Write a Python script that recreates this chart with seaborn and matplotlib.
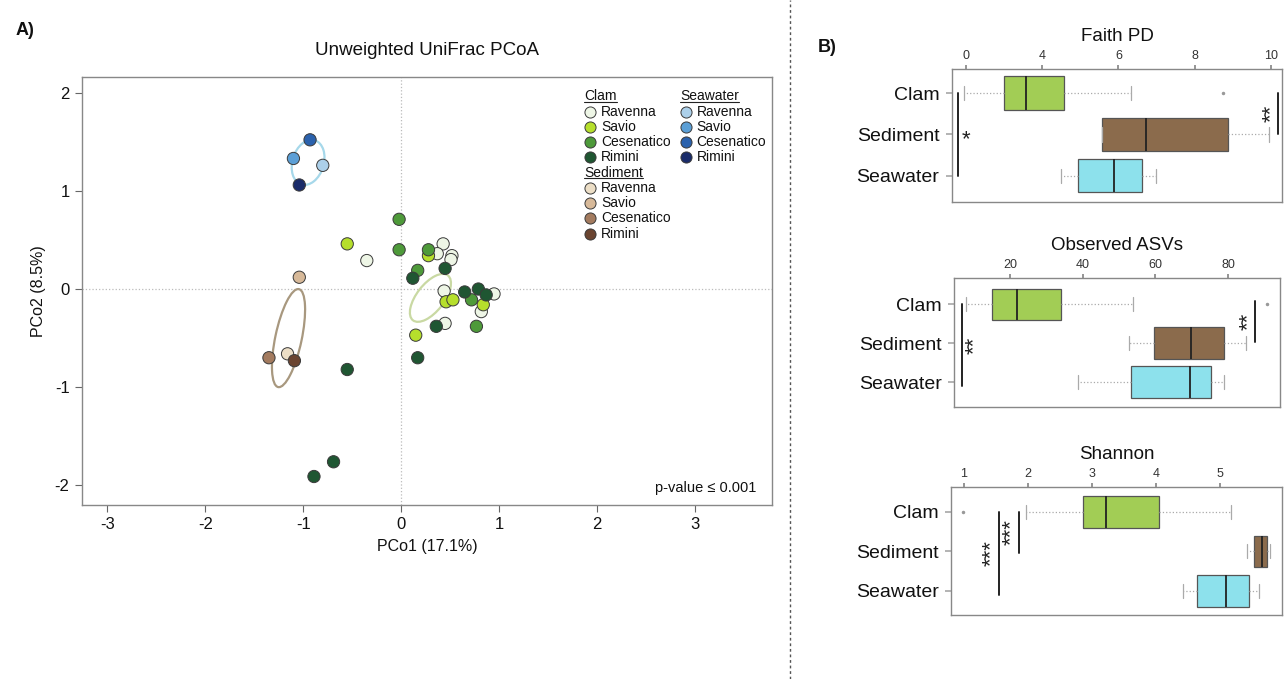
import numpy as np
import pandas as pd
import seaborn as sns
import matplotlib.pyplot as plt
from matplotlib.patches import Ellipse
from matplotlib.lines import Line2D

# ---------------- datos PCoA ----------------
sites = ["Ravenna", "Savio", "Cesenatico", "Rimini"]
sample_types = ["Clam", "Sediment", "Seawater"]

clam_x = {
    "Ravenna": [0.43, 0.37, 0.52, 0.51, 0.44, 0.95, 0.82, 0.45, -0.35],
    "Savio": [0.28, 0.46, 0.53, 0.84, 0.15, -0.55],
    "Cesenatico": [-0.02, -0.02, 0.28, 0.17, 0.72, 0.77],
    "Rimini": [0.45, 0.12, 0.65, 0.79, 0.87, 0.36, 0.17, -0.55, -0.69, -0.89],
}
clam_y = {
    "Ravenna": [0.46, 0.36, 0.34, 0.30, -0.02, -0.05, -0.23, -0.35, 0.29],
    "Savio": [0.34, -0.13, -0.11, -0.16, -0.47, 0.46],
    "Cesenatico": [0.71, 0.40, 0.40, 0.19, -0.11, -0.38],
    "Rimini": [0.21, 0.11, -0.03, 0.00, -0.06, -0.38, -0.70, -0.82, -1.76, -1.91],
}
sediment_x = {"Ravenna": [-1.16], "Savio": [-1.04], "Cesenatico": [-1.35], "Rimini": [-1.09]}
sediment_y = {"Ravenna": [-0.66], "Savio": [0.12], "Cesenatico": [-0.70], "Rimini": [-0.73]}
seawater_x = {"Ravenna": [-0.80], "Savio": [-1.10], "Cesenatico": [-0.93], "Rimini": [-1.04]}
seawater_y = {"Ravenna": [1.26], "Savio": [1.33], "Cesenatico": [1.52], "Rimini": [1.06]}

# elipses: centro x, centro y, ancho, alto, angulo
ellipse_cx = [0.30, -1.15, -0.95]
ellipse_cy = [-0.09, -0.50, 1.29]
ellipse_w = [0.58, 1.02, 0.47]
ellipse_h = [0.28, 0.27, 0.32]
ellipse_ang = [52, 78, 73]
ellipse_col = ["#c9d9a3", "#a8987f", "#a6d8ea"]

colors = {
    "Clam": ["#eef6e6", "#b6df2c", "#4e9a3a", "#1f5632"],
    "Sediment": ["#ecdec6", "#d7b999", "#a37b5f", "#6a4430"],
    "Seawater": ["#acd0ea", "#5b9fd6", "#2b62ad", "#1a2c6a"],
}

# ---------------- datos diversidad alfa (cajas) ----------------
groups = ["Clam", "Sediment", "Seawater"]
box_colors = ["#a2cd55", "#8b6b4c", "#8de1ec"]

faith_q1 = [2.99, 5.58, 4.95]
faith_med = [3.57, 6.72, 5.89]
faith_q3 = [4.58, 8.87, 6.62]
faith_lo = [1.95, 5.58, 4.48]
faith_hi = [6.34, 9.94, 6.98]
faith_out = [[8.74], [], []]
faith_ticks = [2, 4, 6, 8, 10]
faith_ticklabels = ["0", "4", "6", "8", "10"]

asv_q1 = [15.0, 59.6, 53.3]
asv_med = [21.9, 69.7, 69.6]
asv_q3 = [34.0, 78.9, 75.3]
asv_lo = [7.9, 52.7, 38.7]
asv_hi = [53.9, 84.9, 78.9]
asv_out = [[90.7], [], []]
asv_ticks = [20, 40, 60, 80]
asv_ticklabels = ["20", "40", "60", "80"]

shan_q1 = [2.86, 5.54, 4.65]
shan_med = [3.22, 5.66, 5.09]
shan_q3 = [4.05, 5.74, 5.45]
shan_lo = [1.97, 5.43, 4.42]
shan_hi = [5.17, 5.78, 5.61]
shan_out = [[0.98], [], []]
shan_ticks = [1, 2, 3, 4, 5]
shan_ticklabels = ["1", "2", "3", "4", "5"]

# ---------------- estilo ----------------
sns.set_theme(style="white")
plt.rcParams['font.family'] = ['Liberation Sans', 'DejaVu Sans']
plt.rcParams['axes.unicode_minus'] = False
plt.rcParams['text.color'] = '#111111'
plt.rcParams['axes.labelcolor'] = '#111111'
plt.rcParams['xtick.labelcolor'] = '#111111'
plt.rcParams['ytick.labelcolor'] = '#111111'

fig = plt.figure(figsize=(12.84, 6.79), dpi=100)
renderer = fig.canvas.get_renderer()

# ================= A) PCoA =================
rows = []
for st, xs, ys in [("Clam", clam_x, clam_y), ("Sediment", sediment_x, sediment_y),
                   ("Seawater", seawater_x, seawater_y)]:
    for site in sites:
        for x, y in zip(xs[site], ys[site]):
            rows.append({"PCo1": x, "PCo2": y, "grupo": f"{st} {site}"})
df = pd.DataFrame(rows)
palette = {f"{st} {site}": colors[st][i] for st in sample_types for i, site in enumerate(sites)}

ax = fig.add_axes([0.0639, 0.2563, 0.5373, 0.6303])
ax.axhline(0, color="#bbbbbb", lw=0.9, ls=":", zorder=0)
ax.axvline(0, color="#bbbbbb", lw=0.9, ls=":", zorder=0)
for cx, cy, w, h, a, c in zip(ellipse_cx, ellipse_cy, ellipse_w, ellipse_h, ellipse_ang, ellipse_col):
    ax.add_patch(Ellipse((cx, cy), w, h, angle=a, fill=False, edgecolor=c, lw=1.6, zorder=1))
sns.scatterplot(data=df, x="PCo1", y="PCo2", hue="grupo", palette=palette, s=78,
                edgecolor="#3a3a3a", linewidth=0.7, legend=False, ax=ax, zorder=3)
ax.set_xlim(-3.26, 3.79)
ax.set_ylim(-2.2, 2.16)
ax.set_xticks([-3, -2, -1, 0, 1, 2, 3])
ax.set_yticks([-2, -1, 0, 1, 2])
ax.tick_params(axis="both", labelsize=12, length=5, width=0.8, color="#666666",
               left=True, bottom=True, pad=4)
for sp in ax.spines.values():
    sp.set_color("#888888")
    sp.set_linewidth(1.0)
ax.set_xlabel("PCo1 (17.1%)", fontsize=11.5, labelpad=5)
ax.set_ylabel("PCo2 (8.5%)", fontsize=11.5, labelpad=6)
ax.set_title("Unweighted UniFrac PCoA", fontsize=13.5, pad=16)
ax.text(0.978, 0.04, "p-value ≤ 0.001", transform=ax.transAxes, ha="right",
        va="center", fontsize=10.5)

# leyenda manual
row_h = 0.0357
def legend_block(x0, y0, title, cols):
    t = ax.text(x0, y0, title, transform=ax.transAxes, fontsize=10, va="center", ha="left")
    bb = t.get_window_extent(renderer).transformed(ax.transAxes.inverted())
    ax.add_artist(Line2D([bb.x0, bb.x1], [bb.y0 + 0.004, bb.y0 + 0.004], color="#222222",
                         lw=0.8, transform=ax.transAxes))
    for i, site in enumerate(sites):
        yy = y0 - (i + 1) * row_h
        ax.add_artist(Line2D([x0 + 0.009], [yy], marker="o", markersize=8,
                             markerfacecolor=cols[i], markeredgecolor="#3a3a3a",
                             markeredgewidth=0.7, ls="none", transform=ax.transAxes))
        ax.text(x0 + 0.024, yy, site, transform=ax.transAxes, fontsize=10,
                va="center", ha="left")

legend_block(0.728, 0.955, "Clam", colors["Clam"])
legend_block(0.728, 0.955 - 5 * row_h, "Sediment", colors["Sediment"])
legend_block(0.867, 0.955, "Seawater", colors["Seawater"])

# ================= B) cajas =================
def box_panel(rect, title, q1, med, q3, lo, hi, outl, ticks, ticklabels, xlim, ylim, sig):
    bx = fig.add_axes(rect)
    stats = [dict(q1=a, med=b, q3=c, whislo=d, whishi=e, fliers=f, label=g)
             for a, b, c, d, e, f, g in zip(q1, med, q3, lo, hi, outl, groups)]
    res = bx.bxp(stats, positions=range(len(groups)), widths=0.8, orientation="horizontal",
                 patch_artist=True, showfliers=True, capwidths=0.35,
                 boxprops=dict(edgecolor="#555555", lw=0.9),
                 medianprops=dict(color="#222222", lw=1.3),
                 whiskerprops=dict(color="#aaaaaa", lw=0.9, ls=":"),
                 capprops=dict(color="#aaaaaa", lw=0.9),
                 flierprops=dict(marker="o", markersize=1.5, markerfacecolor="#999999",
                                 markeredgecolor="#999999"))
    for patch, c in zip(res["boxes"], box_colors):
        patch.set_facecolor(c)
    bx.set_xlim(*xlim)
    bx.set_ylim(*ylim)
    bx.xaxis.tick_top()
    bx.set_xticks(ticks)
    bx.set_xticklabels(ticklabels)
    bx.set_yticks(range(len(groups)))
    bx.set_yticklabels(groups)
    bx.tick_params(axis="x", labelsize=9, length=3, color="#888888", top=True, pad=2,
                   labelcolor="#333333")
    bx.tick_params(axis="y", labelsize=14, length=4, color="#aaaaaa", left=True, pad=5)
    for sp in bx.spines.values():
        sp.set_color("#888888")
        sp.set_linewidth(1.0)
    bx.set_title(title, fontsize=13.5, pad=20)
    for (xl, y0, y1, xt, yt, lab, rot) in sig:
        bx.plot([xl, xl], [y0, y1], color="#222222", lw=1.4, clip_on=False)
        bx.text(xt, yt, lab, rotation=rot, ha="center", va="center", fontsize=16,
                color="#222222")
    return bx

box_panel([0.7414, 0.7025, 0.257, 0.1959], "Faith PD",
          faith_q1, faith_med, faith_q3, faith_lo, faith_hi, faith_out,
          faith_ticks, faith_ticklabels, (1.63, 10.29), (2.63, -0.58),
          [(1.79, 0.0, 2.0, 2.0, 1.12, "*", 0), (10.18, 0.0, 1.0, 10.02, 0.5, "**", 90)])
box_panel([0.743, 0.4006, 0.254, 0.19], "Observed ASVs",
          asv_q1, asv_med, asv_q3, asv_lo, asv_hi, asv_out,
          asv_ticks, asv_ticklabels, (4.6, 94.3), (2.64, -0.67),
          [(6.8, 0.0, 2.1, 10.2, 1.05, "**", 90), (87.4, -0.08, 0.97, 85.6, 0.45, "**", 90)])
box_panel([0.7407, 0.0943, 0.2577, 0.1885], "Shannon",
          shan_q1, shan_med, shan_q3, shan_lo, shan_hi, shan_out,
          shan_ticks, shan_ticklabels, (0.8, 5.97), (2.61, -0.63),
          [(1.55, 0.0, 2.1, 1.43, 1.05, "***", 90), (1.86, 0.0, 1.05, 1.74, 0.52, "***", 90)])

# separador y etiquetas de panel
fig.add_artist(Line2D([0.615, 0.615], [0.0, 1.0], color="#555555", lw=1.0, ls=(0, (2, 2)),
                      transform=fig.transFigure))
fig.text(0.012, 0.955, "A)", fontsize=13, fontweight="bold", va="center")
fig.text(0.637, 0.93, "B)", fontsize=13, fontweight="bold", va="center")

fig.savefig("out.png", dpi=100)
